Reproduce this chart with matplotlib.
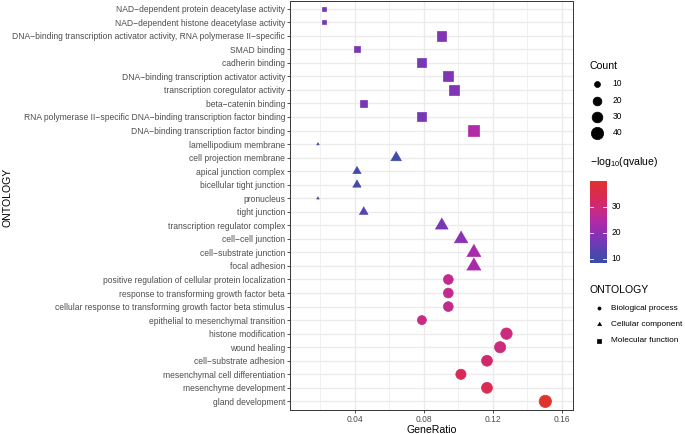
import numpy as np
import matplotlib
matplotlib.use("Agg")
import matplotlib.pyplot as plt
from matplotlib.colors import LinearSegmentedColormap

plt.rcParams['font.family'] = ['Liberation Sans', 'DejaVu Sans']
plt.rcParams['mathtext.fontset'] = 'custom'
plt.rcParams['mathtext.rm'] = 'Liberation Sans'
plt.rcParams['mathtext.it'] = 'Liberation Sans:italic'

# ---------------- data (top to bottom) ----------------
terms = [
    "NAD−dependent protein deacetylase activity",
    "NAD−dependent histone deacetylase activity",
    "DNA−binding transcription activator activity, RNA polymerase II−specific",
    "SMAD binding",
    "cadherin binding",
    "DNA−binding transcription activator activity",
    "transcription coregulator activity",
    "beta−catenin binding",
    "RNA polymerase II−specific DNA−binding transcription factor binding",
    "DNA−binding transcription factor binding",
    "lamellipodium membrane",
    "cell projection membrane",
    "apical junction complex",
    "bicellular tight junction",
    "pronucleus",
    "tight junction",
    "transcription regulator complex",
    "cell−cell junction",
    "cell−substrate junction",
    "focal adhesion",
    "positive regulation of cellular protein localization",
    "response to transforming growth factor beta",
    "cellular response to transforming growth factor beta stimulus",
    "epithelial to mesenchymal transition",
    "histone modification",
    "wound healing",
    "cell−substrate adhesion",
    "mesenchymal cell differentiation",
    "mesenchyme development",
    "gland development",
]
ontology = (["Molecular function"] * 10 + ["Cellular component"] * 10
            + ["Biological process"] * 10)
gene_ratio = [0.0224, 0.0224, 0.0904, 0.0413, 0.0790, 0.0940, 0.0978, 0.0452, 0.0790, 0.1090,
              0.0187, 0.0640, 0.0413, 0.0413, 0.0187, 0.0452, 0.0904, 0.1016, 0.1090, 0.1090,
              0.0943, 0.0943, 0.0943, 0.0790, 0.1280, 0.1243, 0.1167, 0.1016, 0.1167, 0.1505]
counts = [6, 6, 24, 11, 21, 25, 26, 12, 21, 29,
          5, 17, 11, 11, 5, 12, 24, 27, 29, 29,
          25, 25, 25, 21, 34, 33, 31, 27, 31, 40]
neglog_q = [17, 17, 18, 17, 17, 18, 18, 17, 17, 24,
            8.5, 9.5, 10, 10, 8.3, 13, 17, 19, 23, 23,
            27, 27, 27, 28, 29, 29, 31, 33, 34, 39.9]

count_breaks = [10, 20, 30, 40]
q_breaks = [10, 20, 30]
x_ticks = [0.04, 0.08, 0.12, 0.16]
x_tick_labels = ["0.04", "0.08", "0.12", "0.16"]
shape_names = ["Biological process", "Cellular component", "Molecular function"]

# ---------------- colour scale ----------------
qmin, qmax = min(neglog_q), max(neglog_q)
stop_vals = [8.3, 10, 13, 17, 20, 24, 28, 33, 39.9]
stop_cols = ["#3E4DA7", "#434BAA", "#5A43B1", "#7838B6", "#922FB2", "#B12AA6",
             "#C72B84", "#D8295A", "#E2332A"]
cmap = LinearSegmentedColormap.from_list(
    "qv", [((v - stop_vals[0]) / (stop_vals[-1] - stop_vals[0]), c)
           for v, c in zip(stop_vals, stop_cols)])

def qcolor(v):
    return cmap((v - qmin) / (qmax - qmin))

# ---------------- size scale (ggplot area scale, range 1..6) ----------------
cmin, cmax = min(counts), max(counts)
PX_PER_UNIT = 2.05
def diam_pt(c, fixed=None):
    size = fixed if fixed is not None else 1 + 5 * np.sqrt((c - cmin) / (cmax - cmin))
    return size * PX_PER_UNIT * 72 / 100

TRI = [(0, 1.555), (1.347, -0.777), (-1.347, -0.777)]
def marker_for(ont):
    return {"Biological process": "o", "Cellular component": TRI, "Molecular function": "s"}[ont]

def s_for(ont, d):
    if ont == "Cellular component":
        return (1.555 * d) ** 2
    return d ** 2

STROKE = 0.5
TICK_FS = 6.15
TITLE_FS = 7.6

# ---------------- figure ----------------
W, H = 685, 434
fig = plt.figure(figsize=(W / 100, H / 100), dpi=100)
L, R, T, B = 290, 573.3, 0.5, 409.5
ax = fig.add_axes([L / W, 1 - B / H, (R - L) / W, (B - T) / H])

n = len(terms)
ypos = np.arange(n)[::-1]
for ont in shape_names:
    idx = [i for i in range(n) if ontology[i] == ont]
    xs = [gene_ratio[i] for i in idx]
    ys = [ypos[i] for i in idx]
    cols = [qcolor(neglog_q[i]) for i in idx]
    ss = [s_for(ont, diam_pt(counts[i])) for i in idx]
    ax.scatter(xs, ys, s=ss, c=cols, marker=marker_for(ont), linewidths=STROKE,
               edgecolors=cols, zorder=3)

ax.set_xlim(0.0026, 0.1667)
ax.set_ylim(-0.6, n - 0.4)
ax.set_yticks(ypos)
ax.set_yticklabels(terms)
ax.set_xticks(x_ticks)
ax.set_xticklabels(x_tick_labels)
ax.set_xticks([0.02, 0.06, 0.10, 0.14], minor=True)
ax.grid(True, which="major", color="#EBEBEB", lw=0.95, zorder=0)
ax.grid(True, which="minor", axis="x", color="#EBEBEB", lw=0.5, zorder=0)
ax.set_axisbelow(True)
ax.tick_params(axis="both", which="major", length=2.0, width=0.6, color="#333333",
               labelsize=TICK_FS, labelcolor="#4D4D4D", pad=1.6)
ax.tick_params(axis="both", which="minor", length=0)
for sp in ax.spines.values():
    sp.set_color("#333333")
    sp.set_linewidth(0.7)
ax.set_xlabel("GeneRatio", fontsize=TITLE_FS, color="black", labelpad=0.8)

# overlay for legends and y title
ov = fig.add_axes([0, 0, 1, 1], zorder=-1)
ov.set_xlim(0, W)
ov.set_ylim(H, 0)
ov.axis("off")
ov.text(7.5, 197, "ONTOLOGY", rotation=90, fontsize=TITLE_FS, ha="center", va="center")

# Count legend
ov.text(590, 66, "Count", fontsize=TITLE_FS, ha="left", va="center")
for b, yy in zip(count_breaks, [84, 100.7, 116.7, 132.7]):
    d = diam_pt(b)
    ov.scatter([597.3], [yy], s=d ** 2, c="black", marker="o", linewidths=STROKE,
               edgecolors="black")
    ov.text(612.3, yy, str(b), fontsize=TICK_FS, ha="left", va="center", color="black")

# Colour legend
ov.text(590, 162, r"$\mathregular{-log_{10}}$(qvalue)", fontsize=TITLE_FS, ha="left", va="center")
cb_top, cb_bot, cb_l, cb_w = 180.7, 263.3, 590, 16.7
cax = fig.add_axes([cb_l / W, 1 - cb_bot / H, cb_w / W, (cb_bot - cb_top) / H])
grad = np.linspace(qmin, qmax, 256).reshape(-1, 1)
cax.imshow(grad, aspect="auto", cmap=cmap, origin="lower", extent=[0, 1, qmin, qmax],
           vmin=qmin, vmax=qmax)
cax.set_xlim(0, 1)
cax.set_ylim(qmin, qmax)
cax.axis("off")
for v in q_breaks:
    cax.plot([0, 0.2], [v, v], color="white", lw=0.6)
    cax.plot([0.8, 1], [v, v], color="white", lw=0.6)
    cax.text(1.3, v, str(v), transform=cax.get_yaxis_transform(), fontsize=TICK_FS,
             ha="left", va="center")

# Shape legend
ov.text(590, 290, "ONTOLOGY", fontsize=TITLE_FS, ha="left", va="center")
for ont, yy in zip(shape_names, [308, 324, 340.7]):
    d = diam_pt(None, fixed=1.5)
    ov.scatter([599.3], [yy], s=s_for(ont, d), c="black", marker=marker_for(ont),
               linewidths=STROKE, edgecolors="black")
    ov.text(611.0, yy, ont, fontsize=5.95, ha="left", va="center")

fig.savefig("out.png", dpi=100, facecolor="white")
